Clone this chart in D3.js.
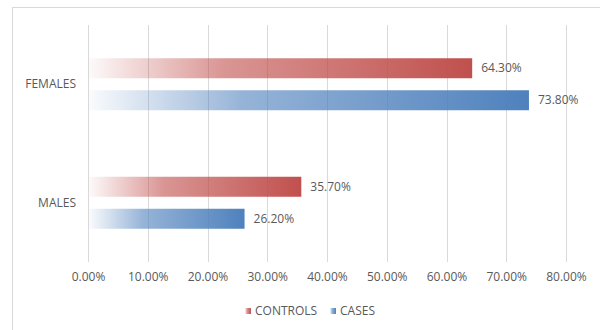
<!DOCTYPE html>
<html><head><meta charset="utf-8">
<script src="https://cdn.jsdelivr.net/npm/d3@7"></script>
<style>body{margin:0;background:#fff}svg{display:block}text{font-family:"Open Sans",sans-serif;fill:#595959}</style>
</head><body>
<svg id="c" width="600" height="330"></svg>
<script>
const categories = ["FEMALES", "MALES"];
const seriesNames = ["CONTROLS", "CASES"];
const controls = [64.3, 35.7];
const cases = [73.8, 26.2];
const ticks = [0, 10, 20, 30, 40, 50, 60, 70, 80];
const tickLabels = ["0.00%","10.00%","20.00%","30.00%","40.00%","50.00%","60.00%","70.00%","80.00%"];

const colors = {CONTROLS: "#c0504d", CASES: "#4f81bd"};
const svg = d3.select("#c");
const defs = svg.append("defs");
seriesNames.forEach(s => {
  const g = defs.append("linearGradient").attr("id", "g-" + s).attr("x1", 0).attr("x2", 1).attr("y1", 0).attr("y2", 0);
  g.append("stop").attr("offset", "0%").attr("stop-color", colors[s]).attr("stop-opacity", 0.03);
  g.append("stop").attr("offset", "35%").attr("stop-color", colors[s]).attr("stop-opacity", 0.6);
  g.append("stop").attr("offset", "100%").attr("stop-color", colors[s]).attr("stop-opacity", 1);
});

// frame
svg.append("line").attr("x1", 12).attr("x2", 600).attr("y1", 7.5).attr("y2", 7.5).attr("stroke", "#d9d9d9");
svg.append("line").attr("x1", 12.5).attr("x2", 12.5).attr("y1", 7).attr("y2", 330).attr("stroke", "#d9d9d9");

const x = d3.scaleLinear().domain([0, 80]).range([88, 566]);
const y = d3.scaleBand().domain(categories).range([25, 262]);
const ySub = d3.scaleBand().domain(seriesNames).range([y.bandwidth()/2 - 26, y.bandwidth()/2 + 26]).paddingInner(12/52*2 / (1 + 12/52) * 0.5);

// grid
svg.append("g").selectAll("line").data(ticks).join("line")
  .attr("x1", d => Math.round(x(d)) + 0.5).attr("x2", d => Math.round(x(d)) + 0.5)
  .attr("y1", 25).attr("y2", 262).attr("stroke", "#d9d9d9").attr("stroke-width", 1);

// x axis labels
const xAxis = d3.axisBottom(x).tickValues(ticks).tickFormat((d, i) => tickLabels[i]).tickSize(0).tickPadding(0);
const gx = svg.append("g").attr("transform", "translate(0,270)").call(xAxis);
gx.select(".domain").remove();
gx.selectAll("text").style("font-size", "12px").attr("fill", "#595959").attr("dy", "0.9em");

// y axis labels
const yAxis = d3.axisLeft(y).tickSize(0).tickPadding(0);
const gy = svg.append("g").attr("transform", "translate(76,0)").call(yAxis);
gy.select(".domain").remove();
gy.selectAll("text").style("font-size", "12px").attr("fill", "#595959");

const data = [];
categories.forEach((c, i) => {
  data.push({cat: c, s: "CONTROLS", v: controls[i]});
  data.push({cat: c, s: "CASES", v: cases[i]});
});
const bh = 20;
function by(d) { return y(d.cat) + y.bandwidth()/2 + (d.s === "CONTROLS" ? -26 : 6); }
svg.append("g").selectAll("rect").data(data).join("rect")
  .attr("x", x(0) + 1).attr("y", d => by(d))
  .attr("width", d => x(d.v) - x(0) - 1).attr("height", bh)
  .attr("fill", d => `url(#g-${d.s})`);

svg.append("g").selectAll("text").data(data).join("text")
  .attr("x", d => x(d.v) + 9).attr("y", d => by(d) + bh/2)
  .attr("dy", "0.35em").style("font-size", "12px")
  .text(d => d.v.toFixed(2) + "%");

// legend
const legend = svg.append("g");
const lx = [245, 330];
seriesNames.forEach((s, i) => {
  legend.append("rect").attr("x", lx[i]).attr("y", 308).attr("width", 6).attr("height", 6).attr("fill", `url(#g-${s})`);
  legend.append("text").attr("x", lx[i] + 10).attr("y", 311).attr("dy", "0.35em").style("font-size", "12px").text(s);
});
</script>
</body></html>
